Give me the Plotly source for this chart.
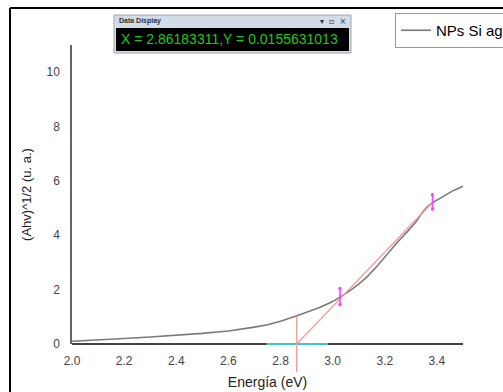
import plotly.graph_objects as go

# ---- data ----
energy = [2.0, 2.1, 2.2, 2.3, 2.4, 2.5, 2.6, 2.65, 2.7, 2.75, 2.8, 2.86, 2.9, 2.95, 3.0, 3.03,
          3.06, 3.1, 3.13, 3.17, 3.21, 3.25, 3.29, 3.32, 3.34, 3.36, 3.383, 3.42, 3.466, 3.5]
tauc = [0.1, 0.14, 0.2, 0.26, 0.32, 0.39, 0.48, 0.54, 0.62, 0.71, 0.84, 1.03, 1.16, 1.34, 1.56, 1.73,
        1.92, 2.2, 2.45, 2.86, 3.33, 3.76, 4.17, 4.5, 4.78, 5.02, 5.2, 5.4, 5.66, 5.8]
series_name = "NPs Si ag"

fit_x = [2.862, 3.38]
fit_y = [0.0, 5.18]
gap_x = 2.862
gap_curve_y = 1.03
cursor_x = [3.028, 3.383]
cursor_y0 = [1.45, 4.97]
cursor_y1 = [2.04, 5.49]
baseline_x = [2.746, 2.982]

xticks = [2.0, 2.2, 2.4, 2.6, 2.8, 3.0, 3.2, 3.4]
yticks = [0, 2, 4, 6, 8, 10]
readout = "X = 2.86183311,Y = 0.0155631013"

W, H = 503, 392
L, R, T, B = 72, 40, 45, 48
PW, PH = W - L - R, H - T - B


def px(x):
    return (x - L) / PW


def py(y):
    return (H - B - y) / PH


fig = go.Figure()
fig.add_trace(go.Scatter(x=energy, y=tauc, mode="lines", name=series_name,
                         line=dict(color="#7a7a7a", width=1.6), showlegend=True))
fig.add_trace(go.Scatter(x=fit_x, y=fit_y, mode="lines", showlegend=False,
                         line=dict(color="#f39a9a", width=1.3)))
for cx, a, b in zip(cursor_x, cursor_y0, cursor_y1):
    fig.add_trace(go.Scatter(x=[cx, cx], y=[a, b], mode="lines+markers", showlegend=False,
                             line=dict(color="#ff44ff", width=1.6),
                             marker=dict(color="#ff44ff", size=3.5)))

shapes = []
# x axis line drawn as shape, then cyan baseline segment over it
shapes.append(dict(type="line", xref="paper", yref="paper", x0=0, x1=1, y0=0, y1=0,
                   line=dict(color="#444", width=2)))
shapes.append(dict(type="line", xref="x", yref="paper", x0=baseline_x[0], x1=baseline_x[1], y0=0, y1=0,
                   line=dict(color="#3cc6c6", width=2)))
# vertical red line (extends below axis)
shapes.append(dict(type="line", xref="x", yref="paper", x0=gap_x, x1=gap_x,
                   y0=py(372), y1=gap_curve_y / 11.0, line=dict(color="#f39a9a", width=1.3)))
# outer border
shapes.append(dict(type="line", xref="paper", yref="paper", x0=px(10), x1=px(10), y0=py(8), y1=py(400),
                   line=dict(color="black", width=2)))
shapes.append(dict(type="line", xref="paper", yref="paper", x0=px(10), x1=px(510), y0=py(8), y1=py(8),
                   line=dict(color="black", width=2)))
# data display window
shapes.append(dict(type="rect", xref="paper", yref="paper", x0=px(114), x1=px(351), y0=py(15), y1=py(53),
                   fillcolor="#d2dbe6", line=dict(color="#a0a8b0", width=1)))
shapes.append(dict(type="rect", xref="paper", yref="paper", x0=px(116), x1=px(349), y0=py(28), y1=py(51),
                   fillcolor="black", line=dict(width=0)))

annotations = [
    dict(text="<b>Data Display</b>", xref="paper", yref="paper", x=px(117), y=py(21.5),
         xanchor="left", yanchor="middle", showarrow=False,
         font=dict(family="Liberation Sans, Arial", size=7, color="#333")),
    dict(text="▾  ▫  ×", xref="paper", yref="paper", x=px(348), y=py(21.5),
         xanchor="right", yanchor="middle", showarrow=False,
         font=dict(family="DejaVu Sans", size=8, color="#333")),
    dict(text=readout, xref="paper", yref="paper", x=px(119), y=py(39.5),
         xanchor="left", yanchor="middle", showarrow=False,
         font=dict(family="Liberation Sans, Arial", size=14, color="#1ec81e")),
]

fig.update_layout(
    width=W, height=H,
    margin=dict(l=L, r=R, t=T, b=B, autoexpand=False),
    paper_bgcolor="white", plot_bgcolor="white",
    font=dict(family="Liberation Sans, Arial", color="#333"),
    shapes=shapes, annotations=annotations,
    showlegend=True,
    legend=dict(x=px(395), y=py(13), xanchor="left", yanchor="top",
                bordercolor="#999", borderwidth=1, bgcolor="white",
                font=dict(size=15, color="black"), itemwidth=30,
                tracegroupgap=0),
    xaxis=dict(range=[2.0, 3.5], tickvals=xticks, ticktext=[f"{v:.1f}" for v in xticks],
               showgrid=False, zeroline=False, showline=False,
               ticks="", ticklabelstandoff=8, tickfont=dict(size=12, color="#444"),
               title=dict(text="Energía (eV)", font=dict(size=14, color="#222"), standoff=10)),
    yaxis=dict(range=[0, 11], tickvals=yticks, showgrid=False, zeroline=False,
               showline=True, linecolor="#666", linewidth=1.5, ticks="",
               ticklabelstandoff=8, tickfont=dict(size=12, color="#444"),
               title=dict(text="(Ahv)^1/2 (u. a.)", font=dict(size=13, color="#222"), standoff=12)),
)

fig.write_html("out.html")
